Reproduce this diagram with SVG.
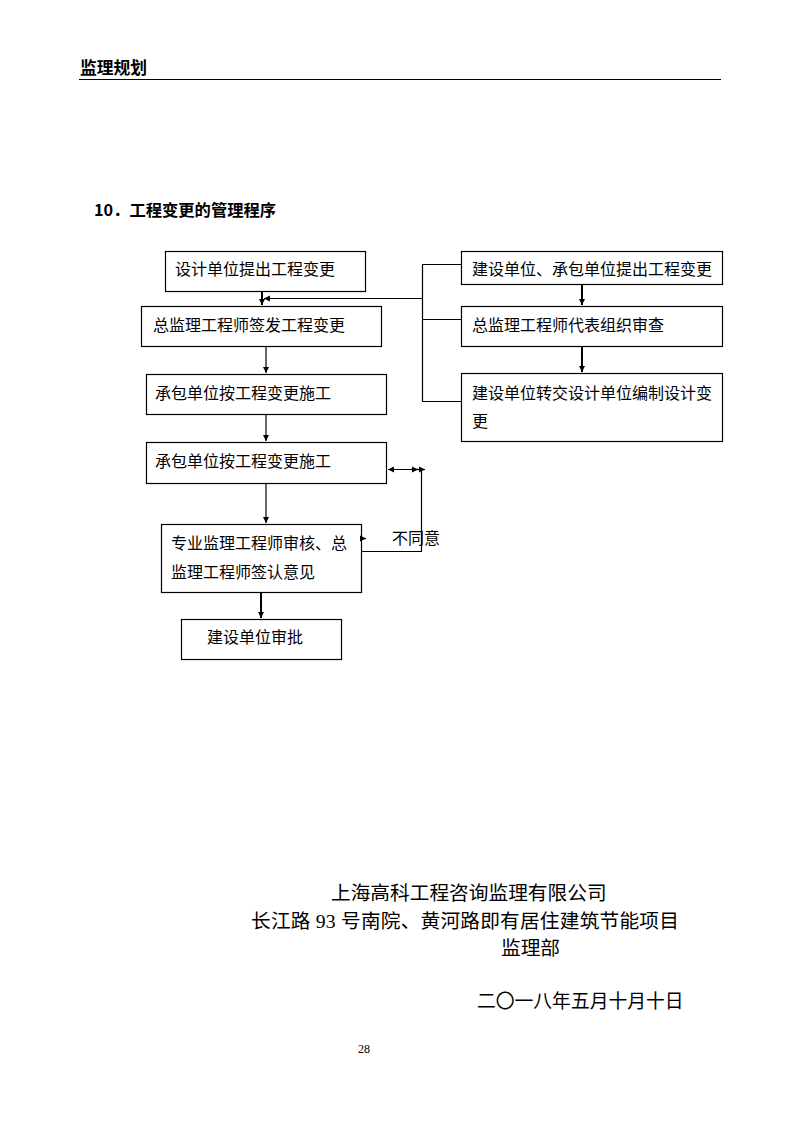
<svg xmlns="http://www.w3.org/2000/svg" width="794" height="1123" viewBox="0 0 794 1123">
<style>
.box{fill:#fff;stroke:#000;stroke-width:1.2}
.t{font-family:"Noto Sans CJK SC","Noto Sans",sans-serif;font-size:16px;fill:#000}
.ln{stroke:#000;stroke-width:1.2;fill:none}
.thk{stroke:#000;stroke-width:2;fill:none}
.f{font-family:"Liberation Serif","Noto Sans CJK SC",serif;font-size:19.7px;fill:#000}
</style>
<defs>
<marker id="ah" markerWidth="7" markerHeight="7" refX="6" refY="3.5" orient="auto" markerUnits="userSpaceOnUse">
<path d="M0,0.5 L6,3.5 L0,6.5 Z" fill="#000"/>
</marker>
</defs>
<rect width="794" height="1123" fill="#fff"/>
<g id="header">
<text x="80" y="74" style="font-family:'Noto Sans CJK SC',sans-serif;font-size:16.8px;font-weight:bold">监理规划</text>
<line x1="79" y1="79.5" x2="721" y2="79.5" stroke="#000" stroke-width="1"/>
<text x="94" y="216" style="font-family:'Noto Sans CJK SC',sans-serif;font-size:16.3px;font-weight:bold">10．工程变更的管理程序</text>
</g>
<g id="n1"><rect class="box" x="165.5" y="251.5" width="200" height="40"/><text class="t" x="175" y="275">设计单位提出工程变更</text></g>
<g id="n2"><rect class="box" x="141.5" y="306.5" width="240" height="40"/><text class="t" x="153" y="331">总监理工程师签发工程变更</text></g>
<g id="n3"><rect class="box" x="146.5" y="374.5" width="240" height="40"/><text class="t" x="155" y="399">承包单位按工程变更施工</text></g>
<g id="n4"><rect class="box" x="146.5" y="442.5" width="240" height="41"/><text class="t" x="155" y="467">承包单位按工程变更施工</text></g>
<g id="n5"><rect class="box" x="161.5" y="524.5" width="200" height="68"/><text class="t" x="171" y="549">专业监理工程师审核、总</text><text class="t" x="171" y="578">监理工程师签认意见</text></g>
<g id="n6"><rect class="box" x="181.5" y="619.5" width="160" height="40"/><text class="t" x="207" y="643">建设单位审批</text></g>
<g id="nA"><rect class="box" x="461.5" y="251.5" width="261" height="33"/><text class="t" x="472" y="275">建设单位、承包单位提出工程变更</text></g>
<g id="nB"><rect class="box" x="461.5" y="306.5" width="261" height="40"/><text class="t" x="472" y="331">总监理工程师代表组织审查</text></g>
<g id="nC"><rect class="box" x="461.5" y="373.5" width="261" height="68"/><text class="t" x="472" y="399">建设单位转交设计单位编制设计变</text><text class="t" x="472" y="427">更</text></g>
<g id="connectors">
<line class="thk" x1="262" y1="292" x2="262" y2="305" marker-end="url(#ah)"/>
<line class="ln" x1="266" y1="347" x2="266" y2="373" marker-end="url(#ah)"/>
<line class="ln" x1="266" y1="415" x2="266" y2="441" marker-end="url(#ah)"/>
<line class="ln" x1="266" y1="484" x2="266" y2="523" marker-end="url(#ah)"/>
<line class="thk" x1="261" y1="593" x2="261" y2="618" marker-end="url(#ah)"/>
<line class="thk" x1="582" y1="285" x2="582" y2="305" marker-end="url(#ah)"/>
<line class="thk" x1="582" y1="347" x2="582" y2="372" marker-end="url(#ah)"/>
<polyline class="ln" points="461,264.5 422.5,264.5 422.5,401.5 461,401.5"/>
<line class="ln" x1="422.5" y1="319.5" x2="461" y2="319.5"/>
<line class="ln" x1="422.5" y1="298.5" x2="264" y2="298.5" marker-end="url(#ah)"/>
<polyline class="ln" points="362,551.5 421.5,551.5 421.5,469.5 388,469.5" marker-end="url(#ah)"/>
<line class="ln" x1="410" y1="469.5" x2="418" y2="469.5" marker-end="url(#ah)"/>
<line class="ln" x1="416" y1="469.5" x2="425" y2="469.5" marker-end="url(#ah)"/>
<line class="ln" x1="362" y1="538.5" x2="366" y2="538.5" marker-end="url(#ah)"/>
<text class="t" x="392" y="544">不同意</text>
</g>
<g id="footer">
<text class="f" x="331" y="900">上海高科工程咨询监理有限公司</text>
<text class="f" x="251" y="928" letter-spacing="0.2">长江路 93 号南院、黄河路即有居住建筑节能项目</text>
<text class="f" x="501" y="955">监理部</text>
<text class="f" x="477" y="1008" style="font-size:18.8px">二〇一八年五月十月十日</text>
<text x="358" y="1053" style="font-family:'Liberation Serif',serif;font-size:12px">28</text>
</g>
</svg>
